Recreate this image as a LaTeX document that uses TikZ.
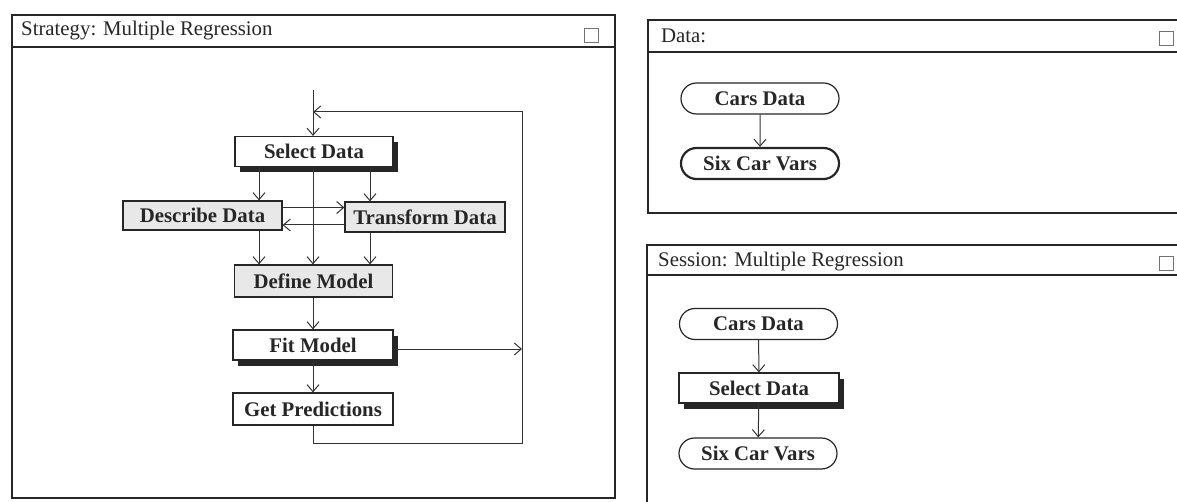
\documentclass[tikz,border=0pt]{standalone}
\usepackage{fontspec}
\setmainfont{Liberation Serif}
\usetikzlibrary{arrows.meta,shapes.misc,shadows}

\begin{document}
\begin{tikzpicture}[x=1pt, y=-1pt, font=\fontsize{20.8}{24}\selectfont, text=black!85,
  >={Straight Barb[length=7pt,width=12pt]},
  win/.style={line width=2pt, draw=black!85},
  wintitle/.style={anchor=west, inner sep=0pt},
  closebox/.style={draw=black!55, line width=1pt, minimum size=14pt, inner sep=0pt},
  taskbox/.style={draw=black!85, line width=1.2pt, fill=white, minimum width=158pt, minimum height=30pt, inner sep=0pt, font=\fontsize{20.8}{24}\selectfont\bfseries},
  shadowbox/.style={taskbox, drop shadow={shadow xshift=5pt, shadow yshift=-6pt, fill=black!85, opacity=1}},
  greybox/.style={taskbox, fill=black!9},
  databox/.style={rounded rectangle, draw=black!85, line width=1.2pt, fill=white, minimum width=158pt, minimum height=31pt, inner sep=0pt, font=\fontsize{20.8}{24}\selectfont\bfseries},
  conn/.style={->, line width=1pt, draw=black!80}]
  \useasboundingbox (0,0) rectangle (1177,502);
  \clip (0,0) rectangle (1177,502);

  % strategy window
  \draw[win] (12,15) rectangle (615,498);
  \draw[win] (12,47) -- (615,47);
  \node[wintitle] (sttitle) at (21,31) {Strategy: Multiple Regression};
  \node[closebox] (stclose) at (591.5,35.5) {};

  \node[shadowbox] (seld) at (314,151.5) {Select Data};
  \node[greybox, minimum width=159pt, minimum height=29pt] (desc) at (202.5,215.5) {Describe Data};
  \node[greybox, minimum width=160pt] (trans) at (425,217) {Transform Data};
  \node[greybox, minimum height=32pt] (defm) at (313.5,281) {Define Model};
  \node[shadowbox, minimum width=160pt] (fitm) at (313,345) {Fit Model};
  \node[taskbox, minimum width=160pt, minimum height=32pt] (getp) at (313,409) {Get Predictions};

  \coordinate (entry) at (313,90);
  \coordinate (loopbr) at (522,443);
  \coordinate (looptr) at (522,112);

  \draw[conn] (entry) -- (entry |- seld.north);
  \foreach \dx/\t in {-55/desc, 56/trans} {
    \draw[conn] ([xshift=\dx pt]seld.south) -- ([xshift=\dx pt]seld.south |- \t.north);
    \draw[conn] ([xshift=\dx pt]seld.south |- \t.south) -- ([xshift=\dx pt]seld.south |- defm.north);
  }
  \draw[conn] (seld.south -| entry) -- (defm.north -| entry);
  \draw[conn] ([yshift=8pt]desc.east) -- ([yshift=8pt]desc.east -| trans.west);
  \draw[conn] ([yshift=-8pt]trans.west) -- ([yshift=-8pt]trans.west -| desc.east);
  \draw[conn] (defm.south -| entry) -- (fitm.north -| entry);
  \draw[conn] (fitm.south -| entry) -- (getp.north -| entry);
  \draw[conn] ([yshift=-4pt]fitm.east) -- ([yshift=-4pt]fitm.east -| looptr);
  \draw[conn] (getp.south -| entry) |- (loopbr) -- (looptr) -- (looptr -| entry);

  % data window
  \draw[win] (648,20) rectangle (1190,213);
  \draw[win] (648,52) -- (1190,52);
  \node[wintitle] (dtitle) at (661,36) {Data:};
  \node[closebox] (dclose) at (1166.5,39) {};

  \node[databox] (dcars) at (760,98.5) {Cars Data};
  \node[databox, line width=2.2pt] (dsix) at (760,163.5) {Six Car Vars};
  \draw[conn] (dcars) -- (dsix);

  % session window
  \draw[win] (647,245) rectangle (1190,515);
  \draw[win] (647,275) -- (1190,275);
  \node[wintitle] (setitle) at (658,262) {Session: Multiple Regression};
  \node[closebox] (seclose) at (1166.5,264) {};

  \node[databox] (scars) at (758.5,324) {Cars Data};
  \node[shadowbox, minimum width=160pt] (ssel) at (759,388) {Select Data};
  \node[databox] (ssix) at (758,453.5) {Six Car Vars};
  \draw[conn] (scars) -- (ssel);
  \draw[conn] (ssel) -- (ssix);
\end{tikzpicture}
\end{document}
